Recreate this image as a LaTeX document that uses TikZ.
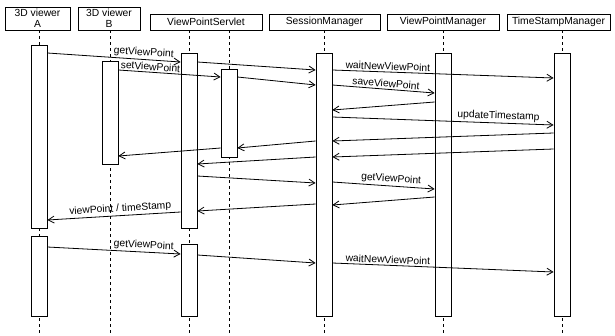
\documentclass[tikz,border=0pt]{standalone}
\usepackage{fontspec}
\setmainfont{Liberation Sans}
\usetikzlibrary{arrows.meta}
\begin{document}
\begin{tikzpicture}[x=1pt,y=-1pt,
  every node/.style={font=\fontsize{10.3}{10.5}\selectfont, inner sep=0pt},
  head/.style={draw, line width=0.8pt, align=center, fill=white},
  actbar/.style={draw, line width=0.8pt, fill=white, minimum width=16pt, anchor=north},
  life/.style={line width=0.8pt, dash pattern=on 3pt off 3pt},
  msg/.style={line width=0.8pt, -{Straight Barb[length=6pt,width=7pt]}},
  msgrev/.style={line width=0.8pt, {Straight Barb[length=6pt,width=7pt]}-},
  lbl/.style={sloped, above, inner sep=1.5pt}]
\useasboundingbox (0,0) rectangle (615,335);
% headers
\node[head, minimum width=65pt, minimum height=23pt] (hA) at (37.5,18.5) {3D viewer\\A};
\node[head, minimum width=62pt, minimum height=23pt] (hB) at (109,18.5) {3D viewer\\B};
\node[head, minimum width=112pt, minimum height=16pt] (hS) at (206,22) {ViewPointServlet};
\node[head, minimum width=111pt, minimum height=16pt] (hM) at (324.5,22) {SessionManager};
\node[head, minimum width=112pt, minimum height=16pt] (hV) at (443,22) {ViewPointManager};
\node[head, minimum width=103pt, minimum height=16pt] (hT) at (558.5,22) {TimeStampManager};
% lifelines
\coordinate (eA) at (39,335);
\coordinate (eB) at (110,335);
\coordinate (eS) at (189,335);
\coordinate (eR) at (229,335);
\coordinate (eM) at (324,335);
\coordinate (eV) at (443,335);
\coordinate (eT) at (562,335);
\draw[life] (eA |- hA.south) -- (eA);
\draw[life] (eB |- hB.south) -- (eB);
\draw[life] (eS |- hS.south) -- (eS);
\draw[life] (eR |- hS.south) -- (eR);
\draw[life] (eM |- hM.south) -- (eM);
\draw[life] (eV |- hV.south) -- (eV);
\draw[life] (eT |- hT.south) -- (eT);
% activation bars
\node[actbar, minimum height=183pt] (a1) at (39,45) {};
\node[actbar, minimum height=80pt] (a2) at (39,236) {};
\node[actbar, minimum height=103pt] (b1) at (110,61) {};
\node[actbar, minimum height=175pt] (s1) at (189,53) {};
\node[actbar, minimum height=72pt] (s2) at (189,244) {};
\node[actbar, minimum height=88pt] (r1) at (229,69) {};
\node[actbar, minimum height=263pt] (sm) at (324,53) {};
\node[actbar, minimum height=263pt] (vp) at (443,53) {};
\node[actbar, minimum height=263pt] (ts) at (562,53) {};
% messages
\draw[msg] (a1.east |- 0,53) -- node[lbl, pos=0.72] {getViewPoint} (s1.west |- 0,62);
\draw[msg] (s1.east |- 0,62) -- (sm.west |- 0,70);
\draw[msg] (b1.east |- 0,70) -- node[lbl, pos=0.31] {setViewPoint} (r1.west |- 0,77);
\draw[msg] (r1.east |- 0,77) -- (sm.west |- 0,85);
\draw[msg] (sm.east |- 0,70) -- node[lbl, pos=0.25] {waitNewViewPoint} (ts.west |- 0,78);
\draw[msg] (sm.east |- 0,85) -- node[lbl, pos=0.52] {saveViewPoint} (vp.west |- 0,93);
\draw[msg] (vp.west |- 0,102) -- (sm.east |- 0,110);
\draw[msg] (sm.east |- 0,117) -- node[lbl, pos=0.75] {updateTimestamp} (ts.west |- 0,125);
\draw[msg] (ts.west |- 0,133) -- (sm.east |- 0,141);
\draw[msg] (sm.west |- 0,141) -- (r1.east |- 0,148);
\draw[msg] (r1.west |- 0,148) -- (b1.east |- 0,156);
\draw[msg] (ts.west |- 0,149) -- (sm.east |- 0,157);
\draw[msg] (sm.west |- 0,157) -- (s1.east |- 0,164);
\draw[msg] (s1.east |- 0,176) -- (sm.west |- 0,183);
\draw[msg] (sm.east |- 0,182) -- node[lbl, pos=0.57] {getViewPoint} (vp.west |- 0,189);
\draw[msg] (vp.west |- 0,197) -- (sm.east |- 0,205);
\draw[msg] (sm.west |- 0,204) -- (s1.east |- 0,211);
\draw[msgrev] (a1.east |- 0,220) -- node[lbl, pos=0.55] {viewPoint / timeStamp} (s1.west |- 0,212);
\draw[msg] (a2.east |- 0,247) -- node[lbl, pos=0.72] {getViewPoint} (s2.west |- 0,254);
\draw[msg] (s2.east |- 0,255) -- (sm.west |- 0,263);
\draw[msg] (sm.east |- 0,263) -- node[lbl, pos=0.25] {waitNewViewPoint} (ts.west |- 0,272);
\end{tikzpicture}
\end{document}
